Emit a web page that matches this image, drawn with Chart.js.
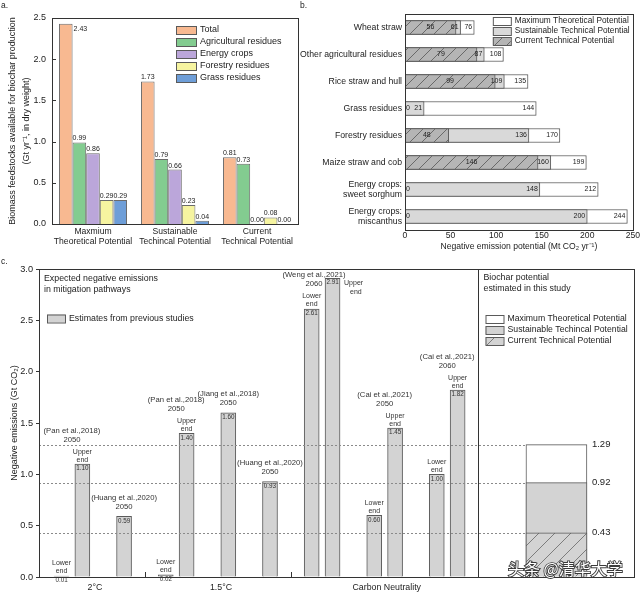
<!DOCTYPE html>
<html>
<head>
<meta charset="utf-8">
<script src="https://cdn.jsdelivr.net/npm/chart.js@4.4.0/dist/chart.umd.min.js"></script>
<style>
  html, body { margin: 0; padding: 0; background: #fff; }
  #wrap { position: relative; width: 640px; height: 594px; }
  #wrap canvas { position: absolute; left: 0; top: 0; }
</style>
</head>
<body>
<div id="wrap">
  <canvas id="chartA" width="640" height="594"></canvas>
  <canvas id="chartB" width="640" height="594"></canvas>
  <canvas id="chartC" width="640" height="594"></canvas>
</div>
<script>
// ---- panel a: biomass feedstocks (Gt/yr)
const potentialLabels = [["Maxmium", "Theoretical Potential"], ["Sustainable", "Techincal Potential"], ["Current", "Technical Potential"]];
const feedstockNames = ["Total", "Agricultural residues", "Energy crops", "Forestry residues", "Grass residues"];
const totalFeed = [2.43, 1.73, 0.81];
const agriFeed = [0.99, 0.79, 0.73];
const energyFeed = [0.86, 0.66, 0.00];
const forestFeed = [0.29, 0.23, 0.08];
const grassFeed = [0.29, 0.04, 0.00];

// ---- panel b: negative emission potential by source (Mt CO2/yr)
const sourceLabels = ["Wheat straw", "Other agricultural residues", "Rice straw and hull", "Grass residues",
  "Forestry residues", "Maize straw and cob", ["Energy crops:", "sweet sorghum"], ["Energy crops:", "miscanthus"]];
const currentNE = [56, 79, 99, 0, 48, 146, 0, 0];
const sustainNE = [61, 87, 109, 21, 136, 160, 148, 200];
const maxNE = [76, 108, 135, 144, 170, 199, 212, 244];
const potentialNamesB = ["Maximum Theoretical Potential", "Sustainable Technical Potential", "Current Technical Potential"];

// ---- panel c: negative emissions in mitigation pathways (Gt CO2)
const estPos = [0, 1, 3, 5, 6, 8, 10, 12, 13, 15, 16, 18, 19];
const estVals = [0.01, 1.10, 0.59, 0.02, 1.40, 1.60, 0.93, 2.61, 2.91, 0.60, 1.45, 1.00, 1.82];
const estEnds = ["Lower", "Upper", null, "Lower", "Upper", null, null, "Lower", "Upper", "Lower", "Upper", "Lower", "Upper"];
const studyNames = ["(Pan et al.,2018)", "(Huang et al.,2020)", "(Pan et al.,2018)", "(Jiang et al.,2018)",
  "(Huang et al.,2020)", "(Weng et al.,2021)", "(Cai et al.,2021)", "(Cai et al.,2021)"];
const studyYears = ["2050", "2050", "2050", "2050", "2050", "2060", "2050", "2060"];
const studyBars = [[0, 1], [2], [3, 4], [5], [6], [7, 8], [9, 10], [11, 12]];
const scenarioLabels = ["2°C", "1.5°C", "Carbon Neutrality"];
const scenarioLabelPos = [1.6, 7.65, 15.6];
const scenarioBreaks = [4, 11];
const studyDivider = 20;
const biocharPos = 23.74;
const biocharLevels = [1.29, 0.92, 0.43]; // maximum, sustainable, current
const potentialNamesC = ["Maximum Theoretical Potential", "Sustainable Techincal Potential", "Current Technical Potential"];

const FONT = "'Liberation Sans', Arial, sans-serif";
const INK = "#222";
const EDGE = "#5a5a5a";
const feedColors = ["#f8b991", "#83cc90", "#bba6da", "#f6f4a0", "#6e9ed8"];

function txt(ctx, s, x, y, size, align = "center", color = INK) {
  ctx.font = `${size}px ${FONT}`;
  ctx.fillStyle = color;
  ctx.textAlign = align;
  ctx.textBaseline = "middle";
  ctx.fillText(s, x, y);
}

function hatch(fill, line, step) {
  const c = document.createElement("canvas");
  c.width = c.height = step;
  const g = c.getContext("2d");
  g.fillStyle = fill;
  g.fillRect(0, 0, step, step);
  g.strokeStyle = line;
  g.lineWidth = 0.8;
  g.beginPath();
  g.moveTo(0, step); g.lineTo(step, 0);
  g.moveTo(-1, 1); g.lineTo(1, -1);
  g.moveTo(step - 1, step + 1); g.lineTo(step + 1, step - 1);
  g.stroke();
  return g.createPattern(c, "repeat");
}

function frame(ctx, a) {
  ctx.strokeStyle = "#333";
  ctx.lineWidth = 1;
  ctx.strokeRect(Math.round(a.left) + 0.5, Math.round(a.top) + 0.5, Math.round(a.width), Math.round(a.height));
}

function swatch(ctx, fill, x, y, w, h) {
  ctx.fillStyle = fill;
  ctx.fillRect(x, y - h / 2, w, h);
  ctx.strokeStyle = EDGE;
  ctx.lineWidth = 1;
  ctx.strokeRect(x + 0.5, y - h / 2 + 0.5, w, h);
}

const noGrid = { display: false, drawTicks: false };

// ================= panel a
const panelA = {
  id: "panelA",
  afterDatasetsDraw(chart) {
    const { ctx, chartArea: a } = chart;
    ctx.save();
    frame(ctx, a);
    const ys = chart.scales.y;
    ys.ticks.forEach(t => {
      const py = Math.round(ys.getPixelForValue(t.value)) + 0.5;
      ctx.beginPath(); ctx.moveTo(a.left, py); ctx.lineTo(a.left + 4, py); ctx.stroke();
    });
    chart.data.datasets.forEach((ds, di) => {
      chart.getDatasetMeta(di).data.forEach((bar, i) => {
        const s = ds.data[i].toFixed(2);
        if (bar.y - a.top < 12) txt(ctx, s, bar.x + bar.width / 2 + 1, bar.y + 5, 7, "left");
        else txt(ctx, s, bar.x, bar.y - 4, 7);
      });
    });
    feedstockNames.forEach((n, i) => {
      const yy = a.top + 12 + i * 12;
      swatch(ctx, feedColors[i], a.right - 122, yy, 20, 8);
      txt(ctx, n, a.right - 98, yy, 9, "left");
    });
    txt(ctx, "a.", 1, 6, 8.5, "left");
    ctx.restore();
  }
};

new Chart(document.getElementById("chartA"), {
  type: "bar",
  data: {
    labels: potentialLabels,
    datasets: [totalFeed, agriFeed, energyFeed, forestFeed, grassFeed].map((d, i) => ({
      label: feedstockNames[i], data: d, backgroundColor: feedColors[i],
      borderColor: "#6b6b6b", borderWidth: 1, categoryPercentage: 0.83, barPercentage: 1
    }))
  },
  options: {
    responsive: false, animation: false, events: [],
    layout: { padding: { left: 0, top: 18, right: 342, bottom: 339 } },
    plugins: { legend: { display: false }, tooltip: { enabled: false } },
    scales: {
      x: {
        grid: noGrid, border: { display: false },
        ticks: { font: { family: FONT, size: 8.6 }, color: INK, padding: 2.5, maxRotation: 0, autoSkip: false },
        afterFit(s) { s.height = 31; }
      },
      y: {
        min: 0, max: 2.5, grid: noGrid, border: { display: false },
        ticks: { stepSize: 0.5, callback: v => v.toFixed(1), font: { family: FONT, size: 9 }, color: INK, padding: 6 },
        title: { display: true, text: ["Biomass feedstocks available for biochar production", "(Gt yr⁻¹, in dry weight)"],
          font: { family: FONT, size: 9, lineHeight: 1.55 }, color: INK, padding: { top: 6, bottom: 0 } },
        afterFit(s) { s.width = 52; }
      }
    }
  },
  plugins: [panelA]
});

// ================= panel b
const hatchB = hatch("#b5b5b5", "#555", 12);
const panelB = {
  id: "panelB",
  afterDatasetsDraw(chart) {
    const { ctx, chartArea: a } = chart;
    ctx.save();
    frame(ctx, a);
    const series = [currentNE, sustainNE, maxNE];
    series.forEach((vals, di) => {
      chart.getDatasetMeta(di).data.forEach((bar, i) => {
        const s = String(vals[i]);
        if (di === 0) {
          if (vals[i] === 0) txt(ctx, s, bar.base + 1, bar.y, 7, "left");
          else txt(ctx, s, (bar.base + bar.x) / 2, bar.y, 7);
        } else {
          txt(ctx, s, bar.x - 2, bar.y, 7, "right");
        }
      });
    });
    const fills = ["#fff", "#d9d9d9", hatchB];
    potentialNamesB.forEach((n, i) => {
      const yy = a.top + 7 + i * 10;
      swatch(ctx, fills[i], a.right - 140, yy, 18, 8);
      txt(ctx, n, a.right - 118, yy, 8.3, "left");
    });
    txt(ctx, "b.", 300, 6, 8.5, "left");
    ctx.restore();
  }
};

new Chart(document.getElementById("chartB"), {
  type: "bar",
  data: {
    labels: sourceLabels,
    datasets: [
      { label: potentialNamesB[2], data: currentNE, backgroundColor: hatchB },
      { label: potentialNamesB[1], data: sustainNE, backgroundColor: "#d9d9d9" },
      { label: potentialNamesB[0], data: maxNE, backgroundColor: "#ffffff" }
    ].map(d => ({ ...d, borderColor: EDGE, borderWidth: 1, barThickness: 14, grouped: false }))
  },
  options: {
    indexAxis: "y", responsive: false, animation: false, events: [],
    layout: { padding: { left: 0, top: 14, right: 6, bottom: 339 } },
    plugins: { legend: { display: false }, tooltip: { enabled: false } },
    scales: {
      x: {
        min: 0, max: 250, grid: noGrid, border: { display: false },
        ticks: { stepSize: 50, font: { family: FONT, size: 8.6 }, color: INK, padding: 0 },
        title: { display: true, text: "Negative emission potential (Mt CO₂ yr⁻¹)", font: { family: FONT, size: 8.6 },
          color: INK, padding: { top: 0, bottom: 3 } },
        afterFit(s) { s.height = 25; }
      },
      y: {
        grid: noGrid, border: { display: false },
        ticks: { font: { family: FONT, size: 8.7, lineHeight: 1.15 }, color: INK, padding: 3, autoSkip: false },
        afterFit(s) { s.width = 405; }
      }
    }
  },
  plugins: [panelB]
});

// ================= panel c
const hatchC = hatch("#d3d3d3", "#666", 16);
const panelC = {
  id: "panelC",
  afterDatasetsDraw(chart) {
    const { ctx, chartArea: a } = chart;
    const xs = chart.scales.x, ys = chart.scales.y;
    ctx.save();

    // reference levels of this study
    const bio = chart.getDatasetMeta(3).data[0];
    const bioLeft = bio.x - bio.width / 2, bioRight = bio.x + bio.width / 2;
    ctx.strokeStyle = "#8a8a8a";
    ctx.lineWidth = 1;
    ctx.setLineDash([2, 2]);
    biocharLevels.forEach(v => {
      const py = Math.round(ys.getPixelForValue(v)) + 0.5;
      ctx.beginPath(); ctx.moveTo(a.left, py); ctx.lineTo(bioLeft, py); ctx.stroke();
    });
    ctx.setLineDash([]);
    biocharLevels.forEach(v => txt(ctx, v.toFixed(2), bioRight + 5, ys.getPixelForValue(v), 9.5, "left"));

    frame(ctx, a);
    ctx.strokeStyle = "#333";
    const dx = Math.round(xs.getPixelForValue(studyDivider)) + 0.5;
    ctx.beginPath(); ctx.moveTo(dx, a.top); ctx.lineTo(dx, a.bottom); ctx.stroke();
    scenarioBreaks.forEach(p => {
      const px = Math.round(xs.getPixelForValue(p)) + 0.5;
      ctx.beginPath(); ctx.moveTo(px, a.bottom); ctx.lineTo(px, a.bottom - 5); ctx.stroke();
    });

    // bar annotations
    const est = chart.getDatasetMeta(0).data;
    est.forEach((bar, i) => {
      txt(ctx, estVals[i].toFixed(2), bar.x, bar.y + 4.5, 6.3, "center", "#333");
      if (!estEnds[i]) return;
      if (bar.y - 14 < a.top + 12) {
        txt(ctx, estEnds[i], bar.x + bar.width / 2 + 4, bar.y + 5, 7, "left", "#333");
        txt(ctx, "end", bar.x + bar.width / 2 + 10, bar.y + 14, 7, "left", "#333");
      } else {
        txt(ctx, estEnds[i], bar.x, bar.y - 12.5, 7, "center", "#333");
        txt(ctx, "end", bar.x, bar.y - 4.5, 7, "center", "#333");
      }
    });
    studyBars.forEach((ids, k) => {
      const els = ids.map(i => est[i]);
      const tallest = els.reduce((p, q) => (q.y < p.y ? q : p));
      const cx = els.reduce((s, e) => s + e.x, 0) / els.length;
      const hasEnds = ids.some(i => estEnds[i]);
      const nameY = tallest.y - (hasEnds ? 33 : 19);
      if (nameY < a.top + 5) {
        txt(ctx, studyNames[k], tallest.x + 13, a.top + 6, 7.7, "right", "#333");
        txt(ctx, studyYears[k], tallest.x - 10, tallest.y + 6, 7.7, "right", "#333");
      } else {
        txt(ctx, studyNames[k], cx, nameY, 7.7, "center", "#333");
        txt(ctx, studyYears[k], cx, nameY + 9, 7.7, "center", "#333");
      }
    });

    // left block text + legend
    txt(ctx, "Expected negative emissions", a.left + 5, a.top + 10, 8.8, "left");
    txt(ctx, "in mitigation pathways", a.left + 5, a.top + 21, 8.8, "left");
    swatch(ctx, "#d3d3d3", a.left + 8, a.top + 49.5, 18, 8);
    txt(ctx, "Estimates from previous studies", a.left + 30, a.top + 49.5, 8.8, "left");

    // right block text + legend
    txt(ctx, "Biochar potential", dx + 5, a.top + 9, 8.8, "left");
    txt(ctx, "estimated in this study", dx + 5, a.top + 20, 8.8, "left");
    const fills = ["#fff", "#d3d3d3", hatchC];
    potentialNamesC.forEach((n, i) => {
      const yy = a.top + 50 + i * 11;
      swatch(ctx, fills[i], dx + 7, yy, 18, 8);
      txt(ctx, n, dx + 29, yy, 8.7, "left");
    });

    txt(ctx, "c.", 1, 262, 8.5, "left");

    // watermark
    ctx.font = `16px 'Noto Sans CJK SC', sans-serif`;
    ctx.textAlign = "left";
    ctx.textBaseline = "middle";
    ctx.lineWidth = 1.8;
    ctx.strokeStyle = "#3a3a3a";
    ctx.strokeText("头条 @清华大学", 508, 569);
    ctx.fillStyle = "#fff";
    ctx.fillText("头条 @清华大学", 508, 569);
    ctx.restore();
  }
};

new Chart(document.getElementById("chartC"), {
  type: "bar",
  data: {
    datasets: [
      { label: "Estimates from previous studies", data: estPos.map((p, i) => ({ x: p, y: estVals[i] })),
        backgroundColor: "#d3d3d3", barThickness: 15 },
      { label: potentialNamesC[2], data: [{ x: biocharPos, y: biocharLevels[2] }], backgroundColor: hatchC, barThickness: 61 },
      { label: potentialNamesC[1], data: [{ x: biocharPos, y: biocharLevels[1] }], backgroundColor: "#d3d3d3", barThickness: 61 },
      { label: potentialNamesC[0], data: [{ x: biocharPos, y: biocharLevels[0] }], backgroundColor: "#ffffff", barThickness: 61 }
    ].map(d => ({ ...d, borderColor: EDGE, borderWidth: 1, grouped: false }))
  },
  options: {
    responsive: false, animation: false, events: [],
    layout: { padding: { left: 0, top: 269, right: 6, bottom: 0 } },
    plugins: { legend: { display: false }, tooltip: { enabled: false } },
    scales: {
      x: {
        type: "linear", min: -1.08, max: 27.46, offset: false,
        grid: noGrid, border: { display: false },
        afterBuildTicks(s) { s.ticks = scenarioLabelPos.map(v => ({ value: v })); },
        ticks: { callback: (v, i) => scenarioLabels[i], font: { family: FONT, size: 8.8 }, color: INK, padding: 5, autoSkip: false, maxRotation: 0 },
        afterFit(s) { s.height = 17; }
      },
      y: {
        min: 0, max: 3,
        grid: { display: true, drawOnChartArea: false, drawTicks: true, tickLength: 3, color: "#333" },
        border: { display: false },
        ticks: { stepSize: 0.5, callback: v => v.toFixed(1), font: { family: FONT, size: 9.2 }, color: INK, padding: 3 },
        title: { display: true, text: "Negative emissions (Gt CO₂)", font: { family: FONT, size: 9 }, color: INK,
          padding: { top: 9, bottom: 0 } },
        afterFit(s) { s.width = 39; }
      }
    }
  },
  plugins: [panelC]
});
</script>
</body>
</html>
